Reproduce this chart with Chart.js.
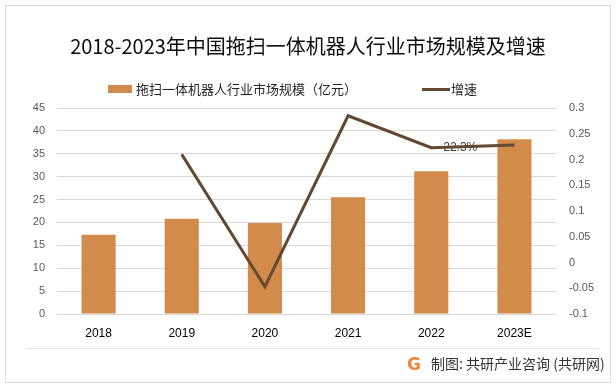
<!DOCTYPE html>
<html>
<head>
<meta charset="utf-8">
<script src="https://cdn.jsdelivr.net/npm/chart.js@4"></script>
<style>
  body { margin: 0; background: #fff; }
  #wrap { position: relative; width: 616px; height: 386px; background: #fff; overflow: hidden; }
  #frame { position: absolute; left: 5px; top: 5px; width: 604px; height: 376px; border: 1px solid #d9d9d9; }
  #chart { position: absolute; left: 0; top: 0; }
  .txt { position: absolute; font-family: "Noto Sans CJK SC", "Noto Sans", sans-serif; white-space: nowrap; }
  #title { left: 0; width: 616px; top: 33px; text-align: center; font-size: 20px; line-height: 26px; color: #0d0d0d; }
  .sw { position: absolute; }
  #sep { position: absolute; left: 27px; top: 348px; width: 572px; height: 1px; background: #e3e3e3; }
  #logo { position: absolute; left: 407px; top: 354px; font-family: "DejaVu Sans", sans-serif; font-weight: bold; font-size: 17px; line-height: 20px; color: #f0843a; }
</style>
</head>
<body>
<div id="wrap">
  <div id="frame"></div>
  <canvas id="chart" width="616" height="386"></canvas>
  <div class="txt" id="title">2018-2023年中国拖扫一体机器人行业市场规模及增速</div>
  <div class="sw" style="left:108px;top:85px;width:24px;height:8px;background:#d38b4c;"></div>
  <div class="txt" style="left:136px;top:80px;font-size:13px;line-height:18px;color:#262626;">拖扫一体机器人行业市场规模（亿元）</div>
  <div class="sw" style="left:422px;top:88px;width:28px;height:3px;background:#644831;"></div>
  <div class="txt" style="left:451px;top:80px;font-size:13px;line-height:18px;color:#262626;">增速</div>
  <div id="sep"></div>
  <div id="logo">G</div>
  <div class="txt" style="left:431px;top:353px;font-size:14px;line-height:20px;color:#333;">制图: 共研产业咨询 (共研网)</div>
</div>
<script>
const years = ['2018', '2019', '2020', '2021', '2022', '2023E'];
const marketSize = [17.3, 20.8, 19.9, 25.5, 31.2, 38.2];
const growth = [null, 0.21, -0.047, 0.285, 0.223, 0.228];
const growthLabels = [null, null, null, null, '22.3%', null];

const barColor = '#d38b4c';
const lineColor = '#644831';
const gridColor = '#d9d9d9';

// data label next to the growth point (only 2022 shows one)
const pointLabels = {
    id: 'pointLabels',
    afterDatasetDraw(chart, args) {
        if (args.index !== 0) return;
        const meta = chart.getDatasetMeta(1);
        const ctx = chart.ctx;
        ctx.save();
        ctx.font = '12px "Liberation Sans", Arial, sans-serif';
        ctx.fillStyle = '#404040';
        ctx.textAlign = 'left';
        ctx.textBaseline = 'middle';
        meta.data.forEach((pt, i) => {
            if (growthLabels[i]) ctx.fillText(growthLabels[i], pt.x + 12, pt.y);
        });
        ctx.restore();
    }
};

const ctx = document.getElementById('chart').getContext('2d');

new Chart(ctx, {
    type: 'bar',
    data: {
        labels: years,
        datasets: [
            {
                label: '拖扫一体机器人行业市场规模（亿元）',
                data: marketSize,
                backgroundColor: barColor,
                barPercentage: 0.41,
                categoryPercentage: 1,
                yAxisID: 'y',
                order: 1
            },
            {
                type: 'line',
                label: '增速',
                data: growth,
                borderColor: lineColor,
                borderWidth: 3,
                pointRadius: 0,
                tension: 0,
                yAxisID: 'y1',
                order: 0
            }
        ]
    },
    options: {
        responsive: false,
        animation: false,
        layout: {
            padding: { top: 108, bottom: 42, left: 0, right: 0 }
        },
        plugins: {
            legend: { display: false },
            tooltip: { enabled: false }
        },
        scales: {
            x: {
                grid: { display: false },
                border: { display: false },
                ticks: {
                    color: '#000',
                    padding: 4,
                    font: { family: '"Liberation Sans", Arial, sans-serif', size: 12 }
                },
                afterFit(scale) { scale.height = 30; }
            },
            y: {
                position: 'left',
                min: 0,
                max: 45,
                ticks: {
                    stepSize: 5,
                    color: '#595959',
                    padding: 12,
                    font: { family: '"Liberation Sans", Arial, sans-serif', size: 11 }
                },
                grid: { color: gridColor, drawTicks: false },
                border: { display: false },
                afterFit(scale) { scale.width = 57; }
            },
            y1: {
                position: 'right',
                min: -0.1,
                max: 0.3,
                ticks: {
                    stepSize: 0.05,
                    color: '#595959',
                    padding: 13,
                    font: { family: '"Liberation Sans", Arial, sans-serif', size: 11 },
                    callback: v => String(+v.toFixed(2))
                },
                grid: { drawOnChartArea: false, drawTicks: false },
                border: { display: false },
                afterFit(scale) { scale.width = 60; }
            }
        }
    },
    plugins: [pointLabels]
});
</script>
</body>
</html>
